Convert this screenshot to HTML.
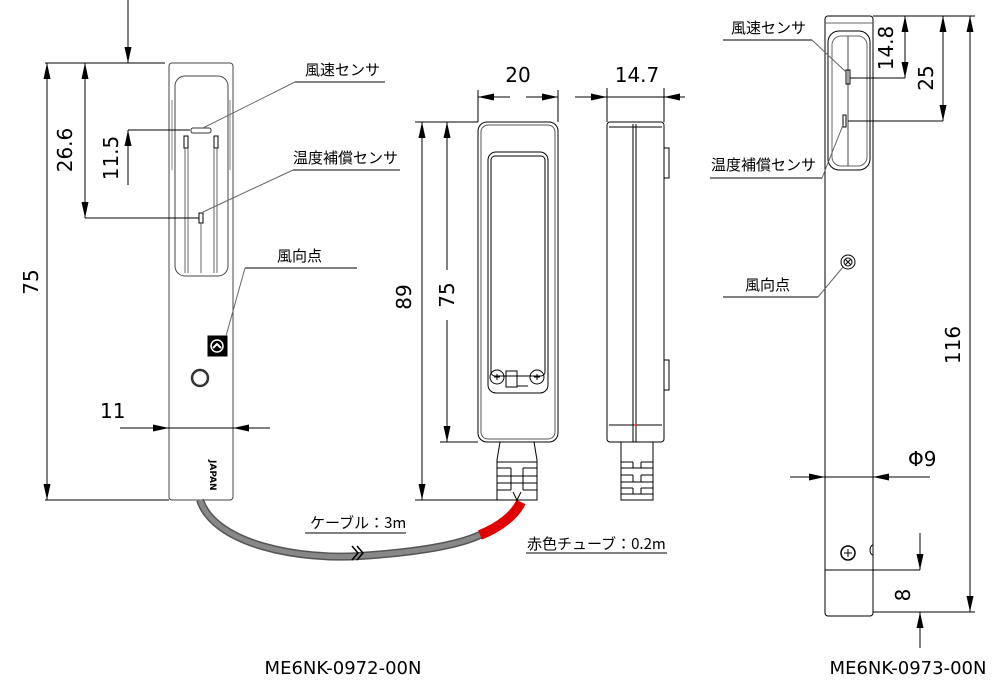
<!DOCTYPE html>
<html><head><meta charset="utf-8"><style>
html,body{margin:0;padding:0;background:#fff;}
svg{display:block;}
text{font-family:"DejaVu Sans","Liberation Sans","Noto Sans CJK JP",sans-serif;fill:#000;}
.j{font-family:"Noto Sans CJK JP","Liberation Sans",sans-serif;font-size:15px;}
.d{font-size:20px;}
</style></head><body>
<svg width="1000" height="690" viewBox="0 0 1000 690" xmlns="http://www.w3.org/2000/svg">
<defs>
<marker id="a" viewBox="0 0 16 7" refX="16" refY="3.5" markerWidth="16" markerHeight="7" markerUnits="userSpaceOnUse" orient="auto"><path d="M0,0 L16,3.5 L0,7 z" fill="#000"/></marker>
</defs>
<g fill="none" stroke="#000" stroke-width="1">
<!-- LEFT VIEW -->
<rect x="169" y="63" width="64" height="437" rx="3" stroke="#444"/>
<rect x="175" y="76" width="53" height="200" rx="10" stroke="#444"/>
<line x1="172" y1="100" x2="172" y2="170" stroke="#888"/>
<line x1="230" y1="100" x2="230" y2="170" stroke="#888"/>
<rect x="191" y="128" width="20" height="5" rx="2" stroke="#333"/>
<rect x="184" y="136" width="4" height="12"/><rect x="214" y="136" width="4" height="12"/>
<line x1="185" y1="148" x2="185" y2="273" stroke="#666"/><line x1="188" y1="148" x2="188" y2="273" stroke="#666"/>
<line x1="214" y1="148" x2="214" y2="273" stroke="#666"/><line x1="217" y1="148" x2="217" y2="273" stroke="#666"/>
<rect x="199" y="213" width="4" height="10"/><line x1="201" y1="223" x2="201" y2="273" stroke="#666"/>
<rect x="208" y="336" width="19" height="20" fill="#000"/>
<circle cx="217" cy="346" r="6" stroke="#fff" stroke-width="1.5"/>
<path d="M213,348 L217,344 L221,348" stroke="#fff" stroke-width="2"/>
<circle cx="200" cy="378" r="8" stroke="#333" stroke-width="2.5"/>
<text x="210" y="460" transform="rotate(90 210 460)" style="font-size:9px;font-weight:bold" fill="#000" stroke="none">JAPAN</text>
<!-- left dims -->
<line x1="45" y1="63" x2="165" y2="63"/><line x1="45" y1="500" x2="169" y2="500"/>
<line x1="47" y1="100" x2="47" y2="63" marker-end="url(#a)"/><line x1="47" y1="460" x2="47" y2="500" marker-end="url(#a)"/>
<line x1="47" y1="63" x2="47" y2="500"/>
<line x1="85" y1="63" x2="85" y2="218"/>
<line x1="85" y1="100" x2="85" y2="63" marker-end="url(#a)"/><line x1="85" y1="180" x2="85" y2="218" marker-end="url(#a)"/>
<line x1="85" y1="218" x2="199" y2="218"/>
<line x1="128" y1="0" x2="128" y2="63" marker-end="url(#a)"/>
<line x1="128" y1="185" x2="128" y2="130" marker-end="url(#a)"/>
<line x1="128" y1="130" x2="190" y2="130"/>
<line x1="120" y1="428" x2="169" y2="428" marker-end="url(#a)"/><line x1="270" y1="428" x2="233" y2="428" marker-end="url(#a)"/>
<line x1="169" y1="428" x2="233" y2="428"/>
<!-- leaders left -->
<line x1="295" y1="82" x2="385" y2="82"/><line x1="295" y1="82" x2="203" y2="128" stroke="#666"/>
<line x1="293" y1="170" x2="400" y2="170"/><line x1="293" y1="170" x2="203" y2="212" stroke="#666"/>
<line x1="245" y1="268" x2="357" y2="268"/><line x1="245" y1="268" x2="226" y2="336" stroke="#666"/>
<!-- CABLE -->
<path d="M200,500 C215,545 300,560 360,556 C420,552 460,545 482,534" stroke="#555" stroke-width="8"/>
<path d="M200,500 C215,545 300,560 360,556 C420,552 460,545 482,534" stroke="#888" stroke-width="5"/>
<path d="M480,535 C500,527 515,515 521,502" stroke="#e00000" stroke-width="10"/>
<path d="M352,546 L358,553 L352,560 M357,546 L363,553 L357,560" stroke="#000" stroke-width="1.5"/>
<line x1="305" y1="533" x2="406" y2="533"/>
<line x1="526" y1="553" x2="667" y2="553"/>
<!-- MIDDLE FRONT -->
<rect x="478" y="122" width="80" height="320" rx="9"/>
<rect x="481" y="125" width="74" height="314" rx="7" stroke="#555"/>
<rect x="488" y="152" width="60" height="241" rx="8"/>
<rect x="491" y="156" width="54" height="220" rx="4"/>
<circle cx="497" cy="377" r="7"/><circle cx="537" cy="377" r="7"/>
<path d="M494,377h6M497,374v6M534,377h6M537,374v6"/>
<rect x="506" y="371" width="11" height="16"/>
<line x1="517" y1="386" x2="528" y2="386"/>
<path d="M500,442 L497,460 L497,500 L537,500 L537,460 L534,442"/>
<path d="M497,462h40M497,468h14M523,468h14M497,476h40M497,483h40M497,490h14M523,490h14M511,468v22M523,468v22"/>
<path d="M513,492 L517,500 L521,492"/>
<!-- middle dims -->
<line x1="478" y1="90" x2="478" y2="122"/><line x1="558" y1="90" x2="558" y2="122"/>
<line x1="510" y1="97" x2="478" y2="97" marker-end="url(#a)"/><line x1="526" y1="97" x2="558" y2="97" marker-end="url(#a)"/>
<line x1="415" y1="122" x2="478" y2="122"/><line x1="415" y1="500" x2="505" y2="500"/><line x1="440" y1="442" x2="478" y2="442"/>
<line x1="422" y1="122" x2="422" y2="500"/>
<line x1="422" y1="160" x2="422" y2="122" marker-end="url(#a)"/><line x1="422" y1="460" x2="422" y2="500" marker-end="url(#a)"/>
<line x1="447" y1="122" x2="447" y2="270"/><line x1="447" y1="320" x2="447" y2="442"/>
<line x1="447" y1="160" x2="447" y2="122" marker-end="url(#a)"/><line x1="447" y1="405" x2="447" y2="442" marker-end="url(#a)"/>
<!-- SIDE VIEW -->
<rect x="607" y="122" width="57" height="320" rx="3"/>
<line x1="633" y1="124" x2="633" y2="442"/><line x1="636" y1="124" x2="636" y2="442"/>
<line x1="609" y1="127" x2="662" y2="127"/><line x1="609" y1="425" x2="662" y2="425"/>
<line x1="634" y1="425" x2="637" y2="425" stroke="#e00"/>
<rect x="664" y="148" width="5" height="30"/><rect x="664" y="360" width="5" height="30"/>
<path d="M621,442 V500 H653 V442"/>
<path d="M621,462h12M641,462h12M621,468h32M621,475h12M641,475h12M621,482h32M621,488h12M641,488h12M621,494h32M633,462v6M641,462v6M633,475v7M641,475v7M633,488v6M641,488v6"/>
<line x1="607" y1="88" x2="607" y2="122"/><line x1="664" y1="88" x2="664" y2="122"/>
<line x1="575" y1="97" x2="607" y2="97" marker-end="url(#a)"/><line x1="685" y1="97" x2="664" y2="97" marker-end="url(#a)"/>
<line x1="607" y1="97" x2="664" y2="97"/>
<!-- RIGHT VIEW -->
<rect x="825" y="16" width="48" height="600" rx="3"/>
<line x1="825" y1="23" x2="873" y2="23" stroke="#666"/>
<rect x="828" y="31" width="42" height="139" rx="11"/>
<rect x="832" y="36" width="35" height="130" rx="9" stroke="#666"/>
<line x1="848" y1="36" x2="848" y2="166" stroke="#444"/>
<rect x="846" y="70" width="4" height="14"/>
<rect x="843" y="115" width="3" height="12"/>
<line x1="825" y1="570" x2="873" y2="570"/>
<circle cx="848" cy="262" r="7"/><circle cx="848" cy="262" r="4"/><path d="M845,259l6,6M851,259l-6,6"/>
<circle cx="848" cy="553" r="7" stroke-width="1.5"/><path d="M844,553h8M848,549v8"/>
<path d="M873,545 a3,5 0 0 0 0,10"/>
<!-- right dims -->
<line x1="873" y1="16" x2="975" y2="16"/><line x1="873" y1="612" x2="975" y2="612"/>
<line x1="970" y1="16" x2="970" y2="612"/>
<line x1="970" y1="50" x2="970" y2="16" marker-end="url(#a)"/><line x1="970" y1="580" x2="970" y2="612" marker-end="url(#a)"/>
<line x1="850" y1="78" x2="905" y2="78"/><line x1="905" y1="16" x2="905" y2="78"/>
<line x1="905" y1="40" x2="905" y2="16" marker-end="url(#a)"/><line x1="905" y1="55" x2="905" y2="78" marker-end="url(#a)"/>
<line x1="848" y1="121" x2="943" y2="121"/><line x1="943" y1="16" x2="943" y2="121"/>
<line x1="943" y1="50" x2="943" y2="16" marker-end="url(#a)"/><line x1="943" y1="90" x2="943" y2="121" marker-end="url(#a)"/>
<line x1="790" y1="477" x2="825" y2="477" marker-end="url(#a)"/><line x1="930" y1="477" x2="873" y2="477" marker-end="url(#a)"/>
<line x1="825" y1="477" x2="873" y2="477"/>
<line x1="873" y1="570" x2="920" y2="570"/>
<line x1="920" y1="533" x2="920" y2="570" marker-end="url(#a)"/>
<line x1="920" y1="648" x2="920" y2="612" marker-end="url(#a)"/>
<line x1="723" y1="40" x2="812" y2="40"/><line x1="812" y1="40" x2="846" y2="72" stroke="#666"/>
<line x1="710" y1="178" x2="822" y2="178"/><line x1="822" y1="178" x2="843" y2="125" stroke="#666"/>
<line x1="723" y1="297" x2="818" y2="297"/><line x1="818" y1="297" x2="843" y2="267" stroke="#666"/>
</g>
<!-- TEXT -->
<text class="j" x="305" y="75">風速センサ</text>
<text class="j" x="293" y="163">温度補償センサ</text>
<text class="j" x="277" y="261">風向点</text>
<text class="j" x="310" y="528">ケーブル：3m</text>
<text class="j" x="527" y="549">赤色チューブ：0.2m</text>
<text class="j" x="731" y="33">風速センサ</text>
<text class="j" x="711" y="170">温度補償センサ</text>
<text class="j" x="745" y="290">風向点</text>
<text class="d" x="100" y="418">11</text>
<text class="d" transform="translate(38,282) rotate(-90)" text-anchor="middle">75</text>
<text class="d" transform="translate(72,150) rotate(-90)" text-anchor="middle">26.6</text>
<text class="d" transform="translate(118,158) rotate(-90)" text-anchor="middle">11.5</text>
<text class="d" x="518" y="82" text-anchor="middle">20</text>
<text class="d" x="637" y="82" text-anchor="middle">14.7</text>
<text class="d" transform="translate(411,297) rotate(-90)" text-anchor="middle">89</text>
<text class="d" transform="translate(454,295) rotate(-90)" text-anchor="middle">75</text>
<text class="d" transform="translate(893,48) rotate(-90)" text-anchor="middle">14.8</text>
<text class="d" transform="translate(933,78) rotate(-90)" text-anchor="middle">25</text>
<text class="d" transform="translate(960,345) rotate(-90)" text-anchor="middle">116</text>
<text class="d" x="908" y="466">Φ9</text>
<text class="d" transform="translate(910,595) rotate(-90)" text-anchor="middle">8</text>
<text x="343" y="674" text-anchor="middle" style="font-size:18px">ME6NK-0972-00N</text>
<text x="908" y="674" text-anchor="middle" style="font-size:18px">ME6NK-0973-00N</text>
</svg>
</body></html>
